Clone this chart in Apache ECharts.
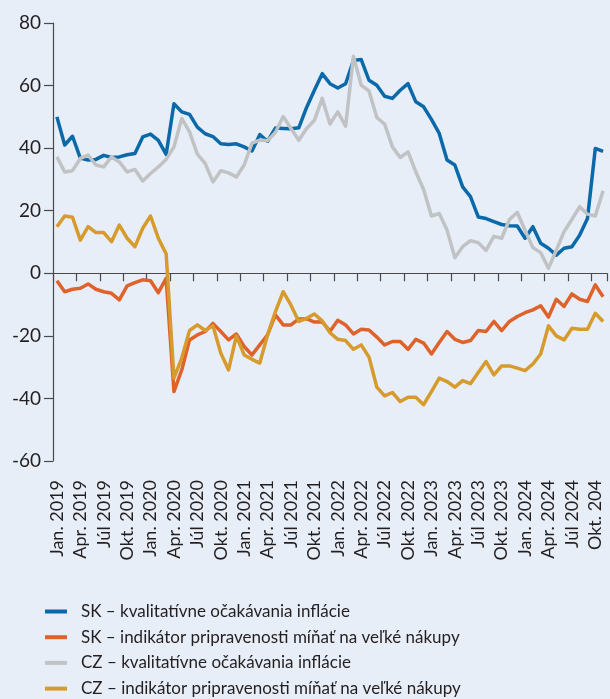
<!DOCTYPE html>
<html>
<head>
<meta charset="utf-8">
<script src="https://cdn.jsdelivr.net/npm/echarts@6/dist/echarts.min.js"></script>
<style>
  html, body { margin: 0; padding: 0; background: #e7eef8; }
  #chart { width: 610px; height: 699px; }
</style>
</head>
<body>
<div id="chart"></div>
<script>
// mesiace Jan. 2019 - Nov. 2024
var months = ['Jan.', 'Feb.', 'Mar.', 'Apr.', 'Máj', 'Jún', 'Júl', 'Aug.', 'Sep.', 'Okt.', 'Nov.', 'Dec.'];
var categories = [];
for (var y = 2019; y <= 2024; y++) {
  for (var m = 0; m < 12; m++) {
    if (y === 2024 && m > 10) break;
    categories.push(months[m] + ' ' + y);
  }
}

var tickLabels = [
  'Jan. 2019', 'Apr. 2019', 'Júl 2019', 'Okt. 2019',
  'Jan. 2020', 'Apr. 2020', 'Júl 2020', 'Okt. 2020',
  'Jan. 2021', 'Apr. 2021', 'Júl 2021', 'Okt. 2021',
  'Jan. 2022', 'Apr. 2022', 'Júl 2022', 'Okt. 2022',
  'Jan. 2023', 'Apr. 2023', 'Júl 2023', 'Okt. 2023',
  'Jan. 2024', 'Apr. 2024', 'Júl 2024', 'Okt. 204'
];

var skInflacia = [
  50, 41, 43.8, 36.8, 36.2, 36.4, 37.7, 37, 37.2, 37.9,
  38.3, 43.6, 44.5, 42.5, 38, 54.2, 51.6, 50.8, 46.7, 44.6,
  43.7, 41.4, 41.2, 41.4, 40.4, 39.1, 44.3, 42.2, 46.4, 46.3,
  46.2, 46.5, 53, 58.5, 63.8, 60.6, 59.2, 60.6, 68, 68.3,
  61.7, 60.1, 56.6, 55.9, 58.5, 60.6, 54.8, 53.2, 49.2, 44.7,
  36.2, 34.6, 27.6, 24.5, 18, 17.5, 16.5, 15.6, 15.2, 15.1,
  11.2, 14.9, 9.6, 8, 5.8, 8, 8.5, 12.2, 17.5, 39.9,
  39
];

var skNakupy = [
  -2.4, -5.9, -5.1, -4.8, -3.4, -5.1, -5.9, -6.4, -8.5, -4,
  -3, -2.1, -2.4, -6.2, -1.6, -37.8, -30.9, -21.3, -19.7, -18.6,
  -16, -18.6, -21.3, -19.4, -23.4, -26.1, -22.9, -19.7, -13.3, -16.5,
  -16.5, -14.6, -14.5, -15.6, -15.5, -18.5, -15, -16.5, -19.4, -17.9,
  -18.1, -20.4, -22.9, -21.8, -21.8, -24.3, -21.1, -22.3, -25.8, -22.1,
  -18.6, -21.1, -22.1, -21.5, -18.3, -18.6, -15.4, -18.3, -15.4, -13.8,
  -12.6, -11.7, -10.4, -14, -8.3, -10.6, -6.6, -8.3, -9, -3.7,
  -7.5
];

var czInflacia = [
  37.2, 32.4, 32.8, 36.7, 37.8, 34.6, 34, 37.2, 35.6, 32.4,
  33.2, 29.5, 31.9, 34, 36.4, 40.4, 49.5, 45.2, 38.1, 35.1,
  29.2, 32.8, 32.1, 30.8, 34.6, 41.6, 42.6, 42.4, 45, 50.1,
  46.3, 42.5, 46.3, 48.9, 55.9, 47.7, 51.6, 47, 69.4, 60.1,
  58.3, 49.8, 47.7, 40.4, 37, 38.8, 32.4, 26.8, 18.3, 19.1,
  13.8, 5, 8.5, 10.4, 9.8, 7.3, 11.8, 11.2, 17.2, 19.5,
  13.7, 8.2, 6.6, 1.6, 7.4, 13.3, 17.2, 21.3, 18.9, 18.3,
  26.4
];

var czNakupy = [
  14.9, 18.3, 17.9, 10.6, 14.9, 13, 13, 10.1, 15.4, 11.2,
  8.5, 14.4, 18.3, 11.2, 6.2, -33.5, -27.1, -18.3, -16.5, -18.3,
  -16.8, -25.5, -30.9, -20, -26.1, -27.5, -28.7, -19.7, -12.3, -5.9,
  -10.2, -15.4, -14.4, -13, -15.2, -19, -21.1, -21.5, -24.3, -22.9,
  -26.8, -36.4, -39.2, -38.1, -41, -39.6, -39.6, -42, -37.8, -33.5,
  -34.6, -36.4, -34.3, -35.3, -31.7, -28.2, -32.5, -29.6, -29.6, -30.3,
  -31.1, -29, -25.8, -16.8, -20, -21.3, -17.6, -17.9, -17.9, -12.8,
  -15.4
];

var seriesNames = [
  'SK – kvalitatívne očakávania inflácie',
  'SK – indikátor pripravenosti míňať na veľké nákupy',
  'CZ – kvalitatívne očakávania inflácie',
  'CZ – indikátor pripravenosti míňať na veľké nákupy'
];
var colors = ['#0a69a9', '#e0622b', '#c1c2c4', '#d69a2d'];

var font = 'Lato';
var textColor = '#231f20';
var axisColor = '#4a4a4c';

var chart = echarts.init(document.getElementById('chart'));

function makeSeries(i, data) {
  return {
    name: seriesNames[i],
    type: 'line',
    data: data,
    symbol: 'none',
    xAxisIndex: 0,
    lineStyle: { width: 3.5, color: colors[i], join: 'round' },
    itemStyle: { color: colors[i] }
  };
}

var option = {
  backgroundColor: '#e7eef8',
  animation: false,
  grid: { left: 53, right: 3, top: 23, bottom: 238, containLabel: false },
  legend: {
    orient: 'vertical',
    left: 40,
    top: 598,
    height: 200,
    itemWidth: 22,
    itemHeight: 14,
    itemGap: 8.7,
    icon: 'path://M0,0 L22,0 L22,4 L0,4 Z',
    textStyle: { fontFamily: font, fontSize: 17, color: textColor, padding: [0, 0, 0, 9] },
    data: seriesNames
  },
  xAxis: [
    {
      type: 'category',
      data: categories,
      boundaryGap: true,
      position: 'bottom',
      axisLine: { onZero: true, lineStyle: { color: axisColor, width: 1.2 } },
      axisTick: { show: true, interval: 2, length: 8, lineStyle: { color: axisColor, width: 1.2 } },
      axisLabel: { show: false },
      splitLine: { show: false }
    },
    {
      type: 'category',
      data: categories,
      boundaryGap: true,
      position: 'bottom',
      axisLine: { show: false, onZero: false },
      axisTick: { show: false },
      axisLabel: {
        show: true,
        interval: 2,
        rotate: 90,
        margin: 19,
        fontFamily: font,
        fontSize: 18,
        color: textColor,
        formatter: function (val, idx) { return tickLabels[idx / 3]; }
      },
      splitLine: { show: false }
    }
  ],
  yAxis: {
    type: 'value',
    min: -60,
    max: 80,
    interval: 20,
    axisLine: { show: true, lineStyle: { color: axisColor, width: 1.2 } },
    axisTick: { show: true, length: 9, lineStyle: { color: axisColor, width: 1.2 } },
    axisLabel: { margin: 12, fontFamily: font, fontSize: 19, color: textColor },
    splitLine: { show: false }
  },
  series: [
    makeSeries(0, skInflacia),
    makeSeries(1, skNakupy),
    makeSeries(2, czInflacia),
    makeSeries(3, czNakupy)
  ]
};

chart.setOption(option);
</script>
</body>
</html>
